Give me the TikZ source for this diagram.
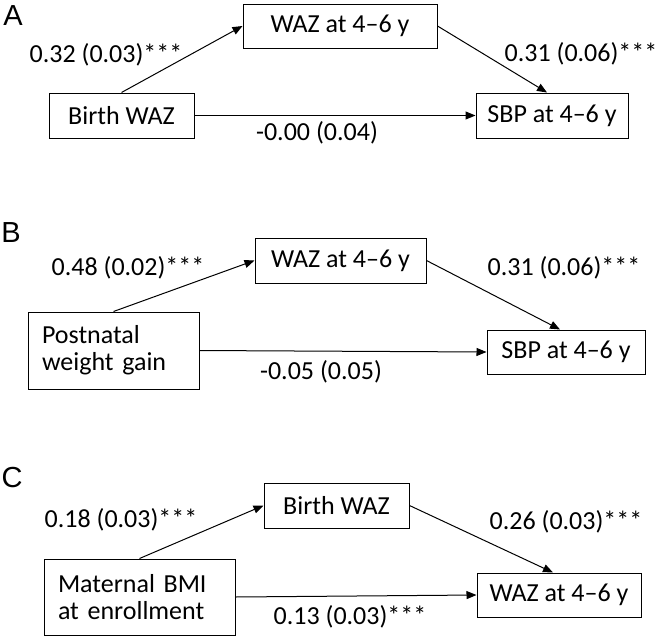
\documentclass[tikz,border=0pt]{standalone}
\usepackage{fontspec}
\setmainfont{Carlito}
\newfontfamily\letterfont{Liberation Sans}
\usetikzlibrary{arrows.meta}
\begin{document}
\begin{tikzpicture}[x=1pt,y=-1pt,
  box/.style={draw, line width=1pt, inner sep=0pt, font=\fontsize{26}{27}\selectfont},
  twoline/.style={draw, line width=1pt, inner xsep=14pt, inner ysep=0pt, align=left, font=\fontsize{26}{27}\selectfont},
  lbl/.style={inner sep=0pt, font=\fontsize{26}{27}\selectfont},
  panel/.style={inner sep=0pt, font=\letterfont\fontsize{29}{30}\selectfont},
  arr/.style={line width=1pt, -{Triangle[length=10pt,width=8pt]}}
]
\useasboundingbox (0,0) rectangle (661,637);

% Panel A
\node[panel] (pA) at (13,16) {A};
\node[box, minimum width=194pt, minimum height=44pt] (mA) at (340,26) {WAZ at 4–6 y};
\node[box, minimum width=145pt, minimum height=45pt] (bA) at (121.5,115.5) {Birth WAZ};
\node[box, minimum width=152pt, minimum height=45pt] (sA) at (552,115.5) {SBP at 4–6 y};
\draw[arr] (bA.north) -- (mA.west);
\draw[arr] (mA.east) -- ([xshift=-5pt]sA.north);
\draw[arr] (bA.east) -- (sA.west);
\node[lbl] (lA1) at (106,55) {0.32 (0.03)***};
\node[lbl] (lA2) at (581,54) {0.31 (0.06)***};
\node[lbl] (lA3) at (317,133) {-0.00 (0.04)};

% Panel B
\node[panel] (pB) at (11,233) {B};
\node[box, minimum width=171pt, minimum height=45pt] (wB) at (340.5,260.5) {WAZ at 4–6 y};
\node[twoline, text width=143pt, minimum height=77pt] (gB) at (113.5,350.5) {Postnatal\\weight gain};
\node[box, minimum width=158pt, minimum height=44pt] (sB) at (566,352) {SBP at 4–6 y};
\draw[arr] (gB.north) -- (wB.west);
\draw[arr] (wB.east) -- ([xshift=-6pt]sB.north);
\draw[arr] (gB.east) -- (sB.west);
\node[lbl] (lB1) at (128,268) {0.48 (0.02)***};
\node[lbl] (lB2) at (564,268) {0.31 (0.06)***};
\node[lbl] (lB3) at (321,372) {-0.05 (0.05)};

% Panel C
\node[panel] (pC) at (12,478) {C};
\node[box, minimum width=145pt, minimum height=45pt] (bC) at (336.5,505.5) {Birth WAZ};
\node[twoline, text width=163pt, minimum height=76pt] (mC) at (139.5,597) {Maternal BMI\\at enrollment};
\node[box, minimum width=164pt, minimum height=44pt] (wC) at (559,595) {WAZ at 4–6 y};
\draw[arr] (mC.north) -- (bC.west);
\draw[arr] (bC.east) -- ([xshift=-6pt]wC.north);
\draw[arr] (mC.east) -- (wC.west);
\node[lbl] (lC1) at (121,520) {0.18 (0.03)***};
\node[lbl] (lC2) at (566,522) {0.26 (0.03)***};
\node[lbl] (lC3) at (350,617) {0.13 (0.03)***};
\end{tikzpicture}
\end{document}
